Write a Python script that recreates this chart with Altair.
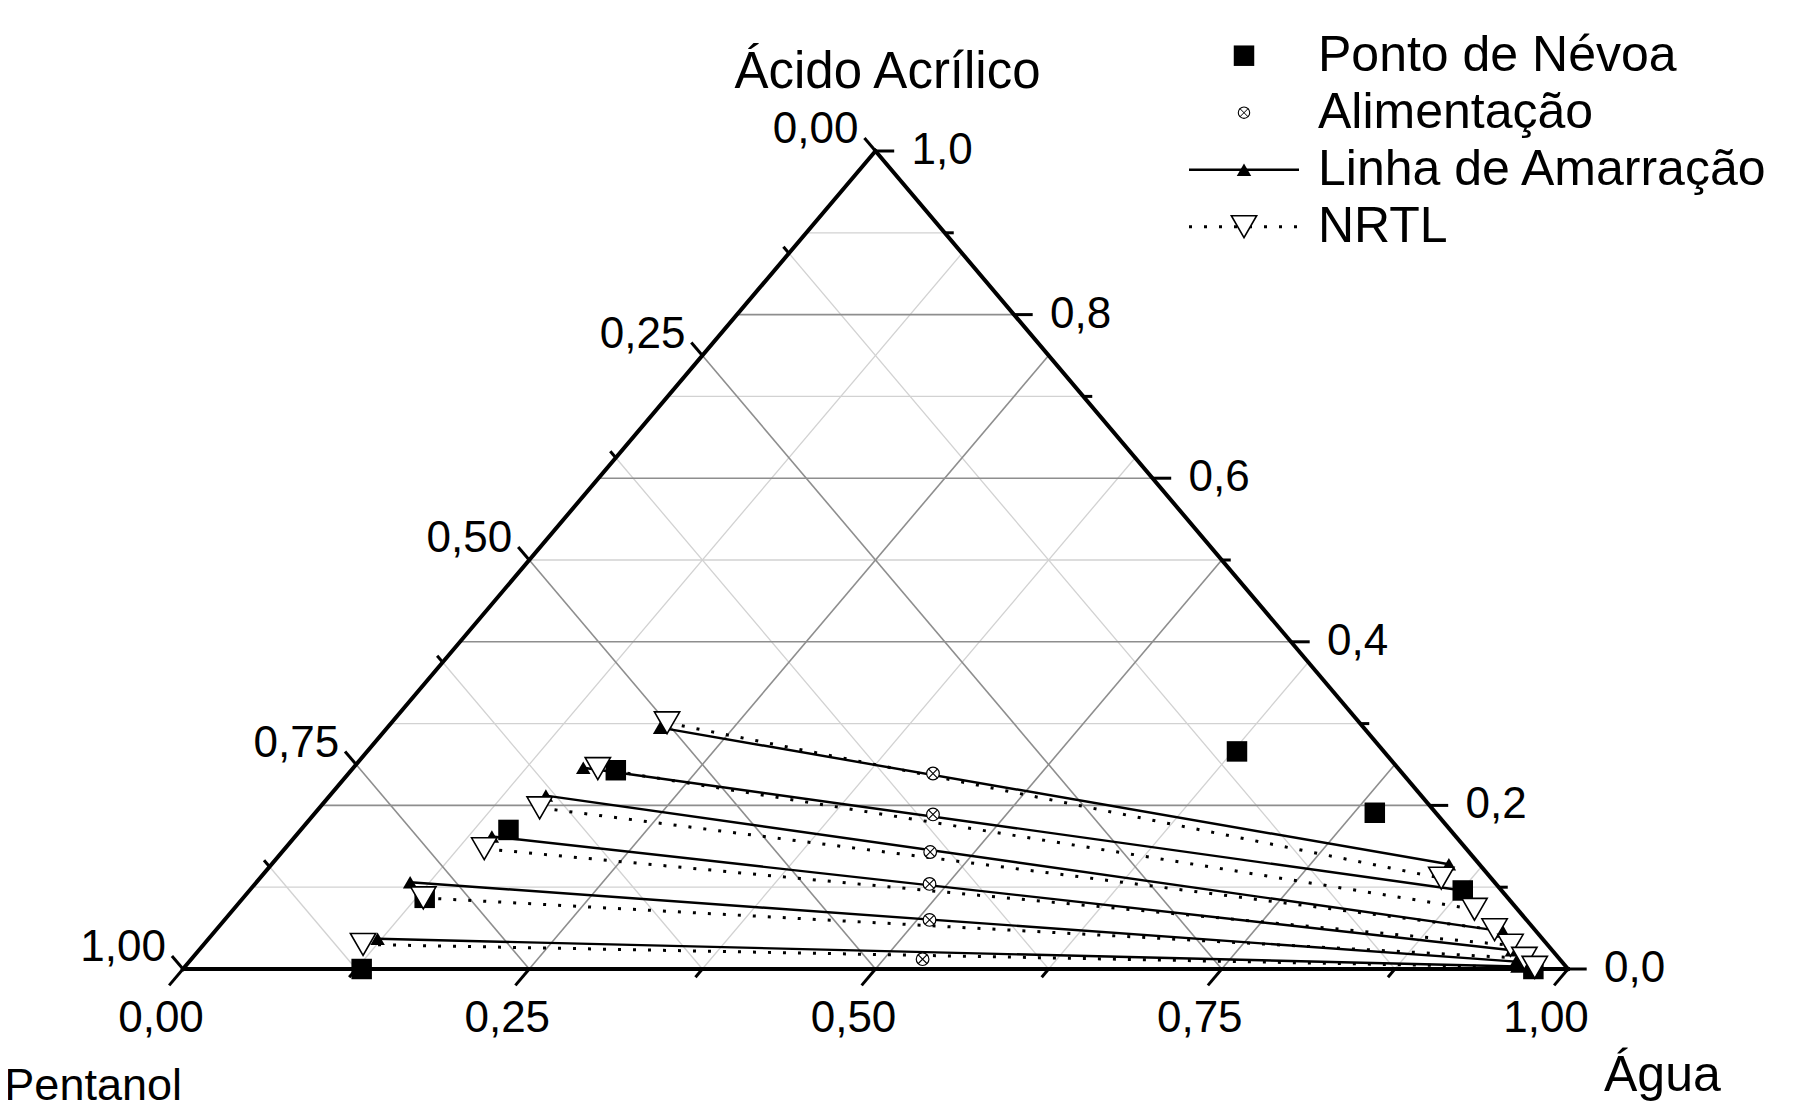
import altair as alt
import pandas as pd

# ---------------- data (mass fractions: Água, Ácido Acrílico; Pentanol = 1 - Água - Ácido) ----------------
nevoa_agua = [0.628, 0.765, 0.876, 0.975, 0.191, 0.150, 0.131, 0.129]
nevoa_acido = [0.266, 0.191, 0.096, 0.000, 0.243, 0.170, 0.087, 0.000]

alim_agua = [0.422, 0.447, 0.468, 0.487, 0.509, 0.528]
alim_acido = [0.239, 0.189, 0.143, 0.104, 0.060, 0.012]

tie_agua_esq = [0.197, 0.166, 0.156, 0.142, 0.111, 0.122]
tie_acido_esq = [0.295, 0.246, 0.212, 0.162, 0.106, 0.037]
tie_agua_dir = [0.850, 0.876, 0.930, 0.948, 0.958, 0.962]
tie_acido_dir = [0.128, 0.096, 0.046, 0.023, 0.009, 0.003]

nrtl_agua_esq = [0.199, 0.177, 0.159, 0.144, 0.130, 0.115]
nrtl_acido_esq = [0.301, 0.245, 0.197, 0.147, 0.087, 0.030]
nrtl_agua_dir = [0.853, 0.896, 0.923, 0.944, 0.962, 0.975]
nrtl_acido_dir = [0.111, 0.073, 0.048, 0.029, 0.013, 0.002]

agua_ticks = [0.0, 0.25, 0.50, 0.75, 1.0]
agua_labels = ["0,00", "0,25", "0,50", "0,75", "1,00"]
pent_ticks = [0.0, 0.25, 0.50, 0.75, 1.0]
pent_labels = ["0,00", "0,25", "0,50", "0,75", "1,00"]
acido_ticks = [0.0, 0.2, 0.4, 0.6, 0.8, 1.0]
acido_labels = ["0,0", "0,2", "0,4", "0,6", "0,8", "1,0"]

legend_labels = ["Ponto de Névoa", "Alimentação", "Linha de Amarração", "NRTL"]

FONT = "Liberation Sans"
W_PX, H_PX = 1385, 818


def cx(agua, acido):
    return agua + acido / 2.0


xs = alt.Scale(domain=[0, 1], nice=False, zero=False)
ys = alt.Scale(domain=[0, 1], nice=False, zero=False)


def enc_seg():
    return dict(
        x=alt.X("x:Q", scale=xs, axis=None),
        y=alt.Y("y:Q", scale=ys, axis=None),
        x2="x2:Q",
        y2="y2:Q",
    )


def enc_pt():
    return dict(x=alt.X("x:Q", scale=xs, axis=None), y=alt.Y("y:Q", scale=ys, axis=None))


# ---------------- grid ----------------
grid = []
for i in range(1, 10):
    a = i / 10
    grid.append(dict(x=cx(0, a), y=a, x2=cx(1 - a, a), y2=a, major=(i % 2 == 0)))
for i in range(1, 8):
    w = i / 8
    grid.append(dict(x=cx(w, 0), y=0, x2=cx(w, 1 - w), y2=1 - w, major=(i % 2 == 0)))
    p = i / 8
    grid.append(dict(x=cx(1 - p, 0), y=0, x2=cx(0, 1 - p), y2=1 - p, major=(i % 2 == 0)))
grid_df = pd.DataFrame(grid)

grid_minor = alt.Chart(grid_df[~grid_df.major]).mark_rule(color="#d2d2d2", strokeWidth=1.3).encode(**enc_seg())
grid_major = alt.Chart(grid_df[grid_df.major]).mark_rule(color="#8e8e8e", strokeWidth=1.6).encode(**enc_seg())

# ---------------- edges ----------------
edges_df = pd.DataFrame([
    dict(x=cx(0, 0), y=0, x2=cx(1, 0), y2=0),
    dict(x=cx(1, 0), y=0, x2=cx(0, 1), y2=1),
    dict(x=cx(0, 1), y=1, x2=cx(0, 0), y2=0),
])
edges = alt.Chart(edges_df).mark_rule(color="black", strokeWidth=4, strokeCap="square").encode(**enc_seg())

# ---------------- ticks ----------------
ticks = []
for i in range(0, 9):
    w = i / 8
    t = 0.02 if i % 2 == 0 else 0.01
    ticks.append(dict(x=cx(w, 0), y=0, x2=cx(w, 0) - t / 2, y2=-t))
    p = i / 8
    t = 0.016 if i % 2 == 0 else 0.008
    ticks.append(dict(x=cx(0, 1 - p), y=1 - p, x2=cx(0, 1 - p) - t / 2, y2=1 - p + t))
for i in range(0, 11):
    a = i / 10
    t = 0.0135 if i % 2 == 0 else 0.0065
    ticks.append(dict(x=cx(1 - a, a), y=a, x2=cx(1 - a, a) + t, y2=a))
ticks_df = pd.DataFrame(ticks)
tick_marks = alt.Chart(ticks_df).mark_rule(color="black", strokeWidth=3).encode(**enc_seg())

# ---------------- tick labels ----------------
bot_df = pd.DataFrame(dict(x=[cx(w, 0) for w in agua_ticks], y=[0] * 5, label=agua_labels))
left_df = pd.DataFrame(dict(x=[cx(0, 1 - p) for p in pent_ticks], y=[1 - p for p in pent_ticks], label=pent_labels))
right_df = pd.DataFrame(dict(x=[cx(1 - a, a) for a in acido_ticks], y=acido_ticks, label=acido_labels))

lab_bot = alt.Chart(bot_df).mark_text(font=FONT, fontSize=44, align="center", baseline="middle", dx=-22, dy=50).encode(
    **enc_pt(), text="label:N")
lab_left = alt.Chart(left_df).mark_text(font=FONT, fontSize=44, align="right", baseline="middle", dx=-17, dy=-21).encode(
    **enc_pt(), text="label:N")
lab_right = alt.Chart(right_df).mark_text(font=FONT, fontSize=44, align="left", baseline="middle", dx=36, dy=0).encode(
    **enc_pt(), text="label:N")

# ---------------- axis titles ----------------
t_top = alt.Chart(pd.DataFrame(dict(x=[cx(0, 1)], y=[1.0], label=["Ácido Acrílico"]))).mark_text(
    font=FONT, fontSize=51, align="center", baseline="middle", dx=12, dy=-78).encode(**enc_pt(), text="label:N")
t_right = alt.Chart(pd.DataFrame(dict(x=[cx(1, 0)], y=[0.0], label=["Água"]))).mark_text(
    font=FONT, fontSize=50, align="left", baseline="middle", dx=36, dy=107).encode(**enc_pt(), text="label:N")
t_left = alt.Chart(pd.DataFrame(dict(x=[cx(0, 0)], y=[0.0], label=["Pentanol"]))).mark_text(
    font=FONT, fontSize=45, align="right", baseline="middle", dx=-1, dy=117).encode(**enc_pt(), text="label:N")

# ---------------- tie lines ----------------
tie_df = pd.DataFrame(dict(
    x=[cx(w, a) for w, a in zip(tie_agua_esq, tie_acido_esq)], y=tie_acido_esq,
    x2=[cx(w, a) for w, a in zip(tie_agua_dir, tie_acido_dir)], y2=tie_acido_dir))
nrtl_df = pd.DataFrame(dict(
    x=[cx(w, a) for w, a in zip(nrtl_agua_esq, nrtl_acido_esq)], y=nrtl_acido_esq,
    x2=[cx(w, a) for w, a in zip(nrtl_agua_dir, nrtl_acido_dir)], y2=nrtl_acido_dir))

tie_lines = alt.Chart(tie_df).mark_rule(color="black", strokeWidth=2.4).encode(**enc_seg())
nrtl_lines = alt.Chart(nrtl_df).mark_rule(color="black", strokeWidth=3, strokeDash=[3, 12]).encode(**enc_seg())

tie_pts_df = pd.DataFrame(dict(
    x=[cx(w, a) for w, a in zip(tie_agua_esq + tie_agua_dir, tie_acido_esq + tie_acido_dir)],
    y=tie_acido_esq + tie_acido_dir))
nrtl_pts_df = pd.DataFrame(dict(
    x=[cx(w, a) for w, a in zip(nrtl_agua_esq + nrtl_agua_dir, nrtl_acido_esq + nrtl_acido_dir)],
    y=nrtl_acido_esq + nrtl_acido_dir))
nevoa_df = pd.DataFrame(dict(x=[cx(w, a) for w, a in zip(nevoa_agua, nevoa_acido)], y=nevoa_acido))
alim_df = pd.DataFrame(dict(x=[cx(w, a) for w, a in zip(alim_agua, alim_acido)], y=alim_acido))

XPATH = "M-0.72,-0.72L0.72,0.72M-0.72,0.72L0.72,-0.72"

nevoa_pts = alt.Chart(nevoa_df).mark_point(shape="square", size=420, filled=True, color="black", opacity=1).encode(**enc_pt())
tie_pts = alt.Chart(tie_pts_df).mark_point(shape="triangle-up", size=210, filled=True, color="black", opacity=1).encode(**enc_pt())
nrtl_pts = alt.Chart(nrtl_pts_df).mark_point(shape="triangle-down", size=640, filled=True, fill="white",
                                             stroke="black", strokeWidth=1.6, opacity=1).encode(**enc_pt())
alim_c = alt.Chart(alim_df).mark_point(shape="circle", size=160, filled=True, fill="white", stroke="black",
                                       strokeWidth=1.2, opacity=1).encode(**enc_pt())
alim_x = alt.Chart(alim_df).mark_point(shape=XPATH, size=160, filled=False, stroke="black",
                                       strokeWidth=1.1, opacity=1).encode(**enc_pt())

# ---------------- legend (layout in plot fractions) ----------------
def fx(px):
    return (px - 183) / W_PX


def fy(py):
    return (969.3 - py) / H_PX


rows_y = [fy(56), fy(113), fy(170), fy(227)]
sym_x = fx(1244)
txt_x = fx(1318)
lx1, lx2 = fx(1189), fx(1299)

leg_txt = alt.Chart(pd.DataFrame(dict(x=[txt_x] * 4, y=rows_y, label=legend_labels))).mark_text(
    font=FONT, fontSize=50, align="left", baseline="middle").encode(**enc_pt(), text="label:N")
leg_sq = alt.Chart(pd.DataFrame(dict(x=[sym_x], y=[rows_y[0]]))).mark_point(
    shape="square", size=420, filled=True, color="black", opacity=1).encode(**enc_pt())
leg_alc = alt.Chart(pd.DataFrame(dict(x=[sym_x], y=[rows_y[1]]))).mark_point(
    shape="circle", size=130, filled=True, fill="white", stroke="black", strokeWidth=1.1, opacity=1).encode(**enc_pt())
leg_alx = alt.Chart(pd.DataFrame(dict(x=[sym_x], y=[rows_y[1]]))).mark_point(
    shape=XPATH, size=130, filled=False, stroke="black", strokeWidth=1.0, opacity=1).encode(**enc_pt())
leg_tie_line = alt.Chart(pd.DataFrame(dict(x=[lx1], y=[rows_y[2]], x2=[lx2], y2=[rows_y[2]]))).mark_rule(
    color="black", strokeWidth=2.4).encode(**enc_seg())
leg_tie_pt = alt.Chart(pd.DataFrame(dict(x=[sym_x], y=[rows_y[2]]))).mark_point(
    shape="triangle-up", size=210, filled=True, color="black", opacity=1).encode(**enc_pt())
leg_nrtl_line = alt.Chart(pd.DataFrame(dict(x=[lx1], y=[rows_y[3]], x2=[lx2], y2=[rows_y[3]]))).mark_rule(
    color="black", strokeWidth=3, strokeDash=[3, 12]).encode(**enc_seg())
leg_nrtl_pt = alt.Chart(pd.DataFrame(dict(x=[sym_x], y=[rows_y[3]]))).mark_point(
    shape="triangle-down", size=640, filled=True, fill="white", stroke="black", strokeWidth=1.6, opacity=1).encode(**enc_pt())

chart = alt.layer(
    grid_minor, grid_major, tie_lines, nrtl_lines, edges, tick_marks,
    lab_bot, lab_left, lab_right, t_top, t_right, t_left,
    alim_c, alim_x, nevoa_pts, tie_pts, nrtl_pts,
    leg_tie_line, leg_nrtl_line, leg_txt, leg_sq, leg_alc, leg_alx, leg_tie_pt, leg_nrtl_pt,
).properties(
    width=W_PX, height=H_PX,
    autosize=alt.AutoSizeParams(type="none"),
    padding={"left": 175, "top": 143, "right": 226, "bottom": 136},
    background="white",
).configure_view(stroke=None)

chart.save("out.html", embed_options={"renderer": "svg", "actions": False})
